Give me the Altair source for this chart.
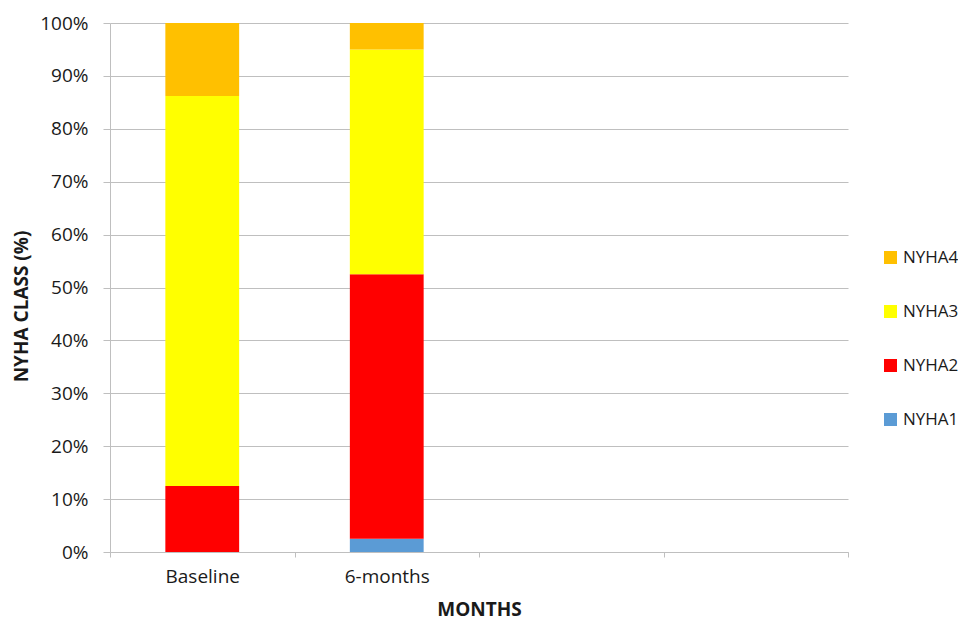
import altair as alt
import pandas as pd

categories = ["Baseline", "6-months", "c3", "c4"]
classes = ["NYHA1", "NYHA2", "NYHA3", "NYHA4"]
colors = ["#5B9BD5", "#FF0000", "#FFFF00", "#FFC000"]
baseline_vals = [0.0, 12.5, 73.7, 13.8]
six_month_vals = [2.5, 50.0, 42.5, 5.0]
y_ticks = [0, 10, 20, 30, 40, 50, 60, 70, 80, 90, 100]

rows = []
for i, cls in enumerate(classes):
    rows.append({"month": "Baseline", "cls": cls, "value": baseline_vals[i], "rank": i})
    rows.append({"month": "6-months", "cls": cls, "value": six_month_vals[i], "rank": i})
df = pd.DataFrame(rows)

legend_order = list(reversed(classes))
legend_colors = list(reversed(colors))

FONT = "Open Sans"
GRID = "#BFBFBF"
TEXT = "#1a1a1a"

chart = alt.Chart(df).mark_bar(width=alt.RelativeBandSize(0.4)).encode(
    x=alt.X(
        "month:N",
        scale=alt.Scale(domain=categories, paddingInner=0, paddingOuter=0),
        axis=alt.Axis(
            title="MONTHS",
            labelExpr="(datum.label == 'c3' || datum.label == 'c4') ? '' : datum.label",
            labelAngle=0,
            labelFontSize=19,
            labelPadding=10,
            tickBand="extent",
            tickSize=5,
            tickColor=GRID,
            domainColor=GRID,
            grid=False,
            titleFontSize=19,
            titleFontWeight="bold",
            titleY=63,
            titleBaseline="alphabetic",
        ),
    ),
    y=alt.Y(
        "value:Q",
        stack="zero",
        scale=alt.Scale(domain=[0, 100], nice=False),
        axis=alt.Axis(
            title="NYHA CLASS (%)",
            values=y_ticks,
            labelExpr="datum.value + '%'",
            labelFontSize=19,
            labelPadding=15,
            tickSize=7,
            tickColor=GRID,
            domainColor=GRID,
            gridColor=GRID,
            titleFontSize=19,
            titleFontWeight="bold",
            titleX=-83,
            titleY=283,
            titleAlign="center",
            titleBaseline="alphabetic",
        ),
    ),
    color=alt.Color(
        "cls:N",
        scale=alt.Scale(domain=legend_order, range=legend_colors),
        legend=alt.Legend(
            title=None,
            orient="none",
            legendX=772,
            legendY=226,
            symbolType="square",
            symbolSize=169,
            symbolStrokeWidth=0,
            labelFontSize=17,
            labelOffset=4,
            rowPadding=36,
            padding=0,
        ),
    ),
    order=alt.Order("rank:Q", sort="ascending"),
).properties(
    width=738,
    height=529,
    autosize=alt.AutoSizeParams(type="none"),
    padding={"left": 102, "top": 15, "right": 110, "bottom": 64},
).configure(
    font=FONT,
).configure_axis(
    labelColor=TEXT,
    titleColor=TEXT,
    labelFont=FONT,
    titleFont=FONT,
).configure_legend(
    labelColor=TEXT,
    labelFont=FONT,
).configure_view(
    stroke=None,
)

chart.save("out.html", embed_options={"renderer": "svg", "actions": False})
